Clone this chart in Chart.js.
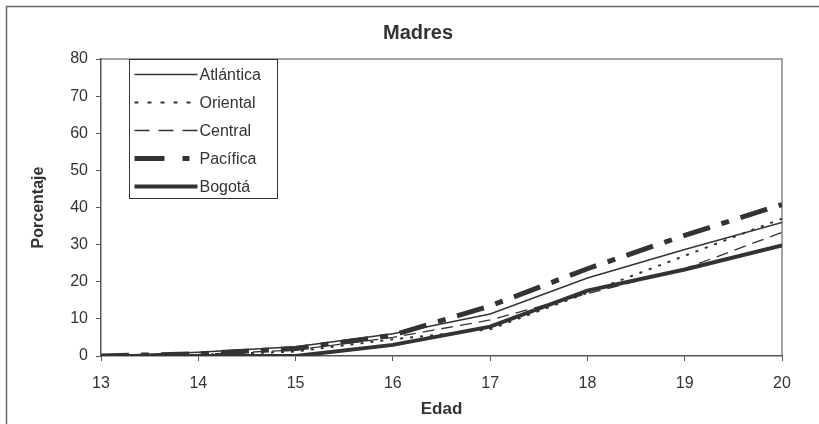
<!DOCTYPE html>
<html>
<head>
<meta charset="utf-8">
<script src="https://cdn.jsdelivr.net/npm/chart.js@4/dist/chart.umd.min.js"></script>
<style>
  html, body { margin: 0; padding: 0; background: #fff; }
  #wrap { width: 819px; height: 424px; }
</style>
</head>
<body>
<div id="wrap"><canvas id="graph-1"></canvas></div>
<script>
// edad (x) and porcentaje por region
const edades = [13, 14, 15, 16, 17, 18, 19, 20];
const atlantica = [0, 1, 2.5, 6, 11.3, 21, 28.7, 36];
const oriental = [0, 0.3, 1.2, 4.5, 7.2, 17, 27, 37];
const central = [0, 0.4, 1.6, 5, 9.7, 16.8, 23.5, 33.3];
const pacifica = [0, 0.6, 2, 5.6, 13.5, 23.5, 32.5, 40.8];
const bogota = [0, 0, 0, 3, 7.9, 17.6, 23.3, 29.8];
const yTicks = [0, 10, 20, 30, 40, 50, 60, 70, 80];

const ink = "#333333";
const pts = (arr) => arr.map((v, i) => ({ x: edades[i], y: v }));

const series = [
  { label: "Atlántica", data: atlantica, width: 1.5, dash: [], legDash: [] },
  { label: "Oriental", data: oriental, width: 2, dash: [3, 7], legDash: [4, 9] },
  { label: "Central", data: central, width: 1.3, dash: [12, 7], legDash: [15, 9] },
  { label: "Pacífica", data: pacifica, width: 5, dash: [28, 12, 8, 12], legDash: [30, 18, 7, 20] },
  { label: "Bogotá", data: bogota, width: 4, dash: [], legDash: [] },
];

// frame, plot border, title and legend box
const decor = {
  id: "decor",
  beforeDraw(chart) {
    const c = chart.ctx;
    const a = chart.chartArea;
    c.save();
    c.strokeStyle = "#666";
    c.lineWidth = 1.5;
    c.beginPath();
    c.moveTo(6.5, 430);
    c.lineTo(6.5, 6.5);
    c.lineTo(830, 6.5);
    c.stroke();
    c.strokeStyle = "#8c8282";
    c.lineWidth = 1.5;
    c.beginPath();
    c.moveTo(a.left, a.top);
    c.lineTo(a.right, a.top);
    c.lineTo(a.right, a.bottom);
    c.stroke();
    c.fillStyle = "#333";
    c.font = "bold 20px 'Liberation Sans', Arial, sans-serif";
    c.textAlign = "center";
    c.textBaseline = "middle";
    c.fillText("Madres", 418, 33);
    c.restore();
  },
  afterDraw(chart) {
    const c = chart.ctx;
    const bx = 129.5, by = 59.5, bw = 148, bh = 139;
    c.save();
    c.fillStyle = "#fff";
    c.fillRect(bx, by, bw, bh);
    c.strokeStyle = "#333";
    c.lineWidth = 1;
    c.strokeRect(bx, by, bw, bh);
    c.font = "16px 'Liberation Sans', Arial, sans-serif";
    c.textBaseline = "middle";
    c.textAlign = "left";
    series.forEach((s, i) => {
      const y = by + 15 + i * 28;
      c.strokeStyle = ink;
      c.lineWidth = s.width;
      c.setLineDash(s.legDash);
      c.beginPath();
      c.moveTo(bx + 5, y);
      c.lineTo(bx + 68, y);
      c.stroke();
      c.setLineDash([]);
      c.fillStyle = "#333";
      c.fillText(s.label, bx + 70, y + 1);
    });
    c.restore();
  },
};

const ctx = document.getElementById("graph-1").getContext("2d");

const madresChart = new Chart(ctx, {
  type: "line",
  data: {
    datasets: series.map((s) => ({
      label: s.label,
      data: pts(s.data),
      borderColor: ink,
      borderWidth: s.width,
      borderDash: s.dash,
      pointRadius: 0,
      fill: false,
      tension: 0,
    })),
  },
  options: {
    responsive: true,
    maintainAspectRatio: false,
    animation: false,
    layout: { padding: { top: 59, right: 37, bottom: 0, left: 0 } },
    plugins: {
      legend: { display: false },
      title: { display: false },
      tooltip: { enabled: false },
    },
    scales: {
      x: {
        type: "linear",
        min: 13,
        max: 20,
        afterFit: (s) => { s.height = 68; },
        ticks: {
          stepSize: 1,
          color: "#333",
          padding: 13,
          font: { family: "'Liberation Sans', Arial", size: 16 },
        },
        grid: { drawOnChartArea: false, drawTicks: true, tickLength: 5, color: "#555" },
        border: { color: "#555", width: 1.5 },
        title: {
          display: true,
          text: "Edad",
          color: "#333",
          font: { family: "'Liberation Sans', Arial", size: 17, weight: "bold" },
          padding: { top: 0 },
        },
      },
      y: {
        min: 0,
        max: 80,
        afterFit: (s) => { s.width = 101; },
        afterBuildTicks: (s) => { s.ticks = yTicks.map((v) => ({ value: v })); },
        ticks: {
          color: "#333",
          padding: 8,
          font: { family: "'Liberation Sans', Arial", size: 16 },
        },
        grid: { drawOnChartArea: false, drawTicks: true, tickLength: 5, color: "#555" },
        border: { color: "#555", width: 1.5 },
        title: {
          display: true,
          text: "Porcentaje",
          color: "#333",
          font: { family: "'Liberation Sans', Arial", size: 16, weight: "bold" },
          padding: { top: 29 },
        },
      },
    },
  },
  plugins: [decor],
});
</script>
</body>
</html>
